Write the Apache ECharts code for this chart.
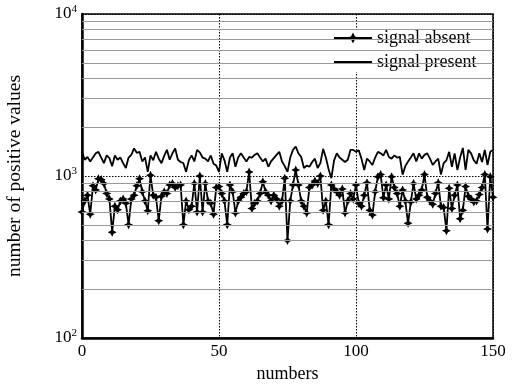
<!DOCTYPE html>
<html>
<head>
<meta charset="utf-8">
<script src="https://cdn.jsdelivr.net/npm/echarts@6/dist/echarts.min.js"></script>
<style>
  html, body { margin: 0; padding: 0; background: #fff; }
  #chartmain { width: 520px; height: 385px; }
</style>
</head>
<body>
<div id="chartmain"></div>
<script>
// 数据 (x = 0..150)
var signalPresent = [
  1410, 1260, 1310, 1230, 1300, 1380, 1410, 1300, 1200, 1340,
  1290, 1150, 1340, 1260, 1300, 1200, 1120, 1300, 1350, 1480,
  1390, 1410, 1230, 1300, 1060, 1340, 1250, 1410, 1280, 1200,
  1330, 1450, 1260, 1380, 1480, 1260, 1220, 1200, 1060, 1250,
  1340, 1230, 1450, 1400, 1300, 1280, 1230, 1340, 1190, 1160,
  1060, 1380, 1250, 1060, 1300, 1380, 1140, 1300, 1380, 1300,
  1230, 1310, 1300, 1350, 1380, 1300, 1230, 1280, 1140, 1230,
  1290, 1350, 1410, 1230, 1150, 1060, 1300, 1450, 1520, 1380,
  1310, 1120, 1160, 1140, 1220, 1280, 1120, 1200, 1470, 1300,
  1100, 970, 1250, 1380, 1300, 1260, 1220, 1260, 1450, 1450,
  1410, 1440, 1280, 1090, 1280, 1230, 1170, 1300, 1410, 1380,
  1340, 1450, 1310, 1280, 1340, 1300, 1310, 1020, 1150, 1230,
  1300, 1380, 1230, 1380, 1280, 1350, 1380, 1280, 1170, 1230,
  1280, 1020, 1200, 1250, 1410, 1140, 1380, 1090, 1300, 1490,
  1090, 1450, 1380, 1250, 1190, 1380, 1220, 1450, 1170, 1410,
  1450
];
var signalAbsent = [
  600, 700, 760, 580, 870, 820, 960, 950, 900, 780,
  720, 450, 650, 620, 700, 720, 680, 500, 720, 760,
  870, 960, 800, 700, 610, 1010, 760, 740, 530, 750,
  800, 780, 880, 900, 850, 870, 880, 500, 700, 620,
  650, 900, 600, 1000, 600, 900, 700, 680, 580, 850,
  860, 780, 700, 500, 880, 800, 590, 700, 740, 780,
  800, 1060, 630, 680, 700, 780, 920, 800, 760, 700,
  760, 720, 650, 700, 970, 400, 700, 880, 1090, 880,
  700, 650, 590, 850, 880, 930, 900, 1000, 615, 700,
  500, 880, 830, 800, 760, 830, 590, 700, 780, 720,
  880, 680, 650, 760, 910, 615, 575, 800, 990, 1020,
  735, 880, 720, 990, 850, 780, 650, 820, 700, 510,
  690, 900, 720, 760, 820, 1020, 740, 700, 670, 780,
  910, 650, 640, 460, 840, 630, 760, 880, 545, 615,
  860, 750, 720, 690, 700, 770, 850, 1020, 470, 990,
  740
];
var seriesNames = ['signal absent', 'signal present'];
var xTicks = [0, 50, 100, 150];
var yMajor = [100, 1000, 10000];
var yMinor = [200, 300, 400, 500, 600, 700, 800, 900, 2000, 3000, 4000, 5000, 6000, 7000, 8000, 9000];

var serif = "'Liberation Serif', 'Times New Roman', serif";
var starPath = 'path://M0,-6 L2,-2 L6,0 L2,2 L0,6 L-2,2 L-6,0 L-2,-2 Z';
var lineIcon = 'path://M0,0 L38,0 L38,2 L0,2 Z';

function toPairs(arr) {
  return arr.map(function (v, i) { return [i, v]; });
}

var option = {
  animation: false,
  backgroundColor: '#fff',
  textStyle: { fontFamily: serif },
  grid: {
    left: 82, top: 14, right: 27, bottom: 47,
    outerBoundsMode: 'none',
    show: true, borderColor: '#000', borderWidth: 1.5, containLabel: false
  },
  legend: {
    data: [
      { name: seriesNames[0] },
      { name: seriesNames[1], icon: lineIcon }
    ],
    orient: 'vertical',
    left: 333, top: 28,
    itemWidth: 38, itemHeight: 14, itemGap: 6,
    padding: [1, 4, 1, 0],
    backgroundColor: '#fff',
    textStyle: { fontFamily: serif, fontSize: 18, color: '#000', padding: [0, 0, 0, 0] }
  },
  xAxis: {
    type: 'value', min: 0, max: 150, interval: 50,
    name: 'numbers', nameLocation: 'middle', nameGap: 26,
    nameTextStyle: { fontFamily: serif, fontSize: 18, color: '#000' },
    axisLine: { lineStyle: { color: '#000', width: 2.5 } },
    axisTick: { show: false },
    axisLabel: { fontFamily: serif, fontSize: 17, color: '#000', margin: 5 },
    splitLine: { show: true, lineStyle: { color: '#000', type: [1.5, 1.5], width: 1 } }
  },
  yAxis: {
    type: 'log', logBase: 10, min: yMajor[0], max: yMajor[2],
    name: 'number of positive values', nameLocation: 'middle', nameGap: 57,
    nameTextStyle: { fontFamily: serif, fontSize: 19.5, color: '#000' },
    axisLine: { lineStyle: { color: '#000', width: 2.5 } },
    axisTick: { show: false },
    axisLabel: {
      fontFamily: serif, color: '#000', margin: 5,
      formatter: function (v) {
        return '{b|10}{s|' + Math.round(Math.log10(v)) + '}';
      },
      rich: {
        b: { fontFamily: serif, fontSize: 17, color: '#000' },
        s: { fontFamily: serif, fontSize: 11, color: '#000', verticalAlign: 'top', padding: [0, 0, 9, 0] }
      }
    },
    splitLine: { show: true, lineStyle: { color: '#000', type: [1.5, 1.5], width: 1 } }
  },
  series: [
    {
      name: 'grid', type: 'line', data: [], z: 1, silent: true,
      markLine: {
        silent: true, symbol: 'none', animation: false,
        label: { show: false },
        lineStyle: { color: '#999', type: 'solid', width: 1 },
        data: yMinor.map(function (v) { return { yAxis: v }; })
      }
    },
    {
      name: seriesNames[1], type: 'line', z: 3,
      data: toPairs(signalPresent),
      showSymbol: false, symbol: 'none',
      lineStyle: { color: '#000', width: 1.8 },
      itemStyle: { color: '#000' }
    },
    {
      name: seriesNames[0], type: 'line', z: 4,
      data: toPairs(signalAbsent),
      symbol: starPath, symbolSize: 9,
      lineStyle: { color: '#000', width: 1.8 },
      itemStyle: { color: '#000' }
    }
  ]
};

var myChart = echarts.init(document.getElementById('chartmain'));
myChart.setOption(option);
</script>
</body>
</html>
